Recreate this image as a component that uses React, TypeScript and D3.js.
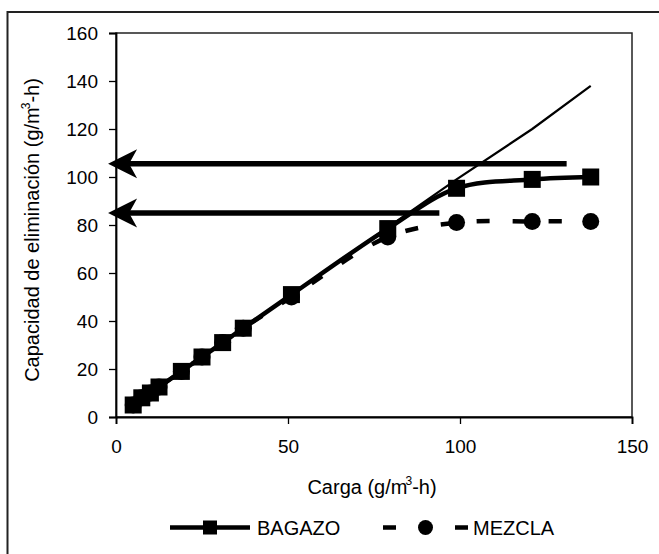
import * as d3 from "d3";
import React, { useEffect, useRef } from "react";

// carga (g/m3-h)
const bagazoX = [5, 7.5, 10, 12.5, 19, 25, 31, 37, 51, 79, 99, 121, 138];
const bagazoY = [5, 8, 10, 12.5, 19, 25, 31, 37, 51, 78.5, 95.3, 99, 100];

const mezclaX = [5, 7.5, 10, 12.5, 19, 25, 31, 37, 51, 79, 99, 121, 138];
const mezclaY = [5, 8, 10, 12.5, 19, 25, 31, 37, 50, 75, 81, 81.5, 81.5];

// 100% removal line
const idealX = [5, 12.5, 25, 37, 51, 79, 99, 121, 138];
const idealY = [5, 12.5, 25, 37, 51, 79, 99, 120, 138];

// horizontal arrows (max capacity)
const arrowLevel = [105.5, 85];
const arrowFrom = [131, 94];
const arrowTo = [-2.3, -2.3];

const xTicks = [0, 50, 100, 150];
const yTicks = [0, 20, 40, 60, 80, 100, 120, 140, 160];

const FONT = "Arial, 'Liberation Sans', sans-serif";

function Chart() {
    const ref = useRef<SVGSVGElement>(null);

    function drawChart() {
        const svg = d3.select(ref.current);
        svg.selectAll("*").remove();

        const x = d3.scaleLinear().domain([0, 150]).range([116, 632]);
        const y = d3.scaleLinear().domain([0, 160]).range([417, 33]);

        // outer frame (cropped on the right and bottom)
        svg.append("rect")
            .attr("x", 7.5)
            .attr("y", 12)
            .attr("width", 700)
            .attr("height", 600)
            .attr("fill", "none")
            .attr("stroke", "#222")
            .attr("stroke-width", 2);

        // plot frame
        svg.append("rect")
            .attr("x", x(0))
            .attr("y", y(160))
            .attr("width", x(150) - x(0))
            .attr("height", y(0) - y(160))
            .attr("fill", "none")
            .attr("stroke", "#222")
            .attr("stroke-width", 1.5);

        const xAxis = svg.append("g")
            .attr("transform", `translate(0,${y(0)})`)
            .call(d3.axisBottom(x).tickValues(xTicks).tickSize(7).tickPadding(16).tickFormat(d3.format("d")));
        const yAxis = svg.append("g")
            .attr("transform", `translate(${x(0)},0)`)
            .call(d3.axisLeft(y).tickValues(yTicks).tickSize(7).tickPadding(11).tickFormat(d3.format("d")));
        [xAxis, yAxis].forEach((g) => {
            g.select(".domain").attr("stroke", "#000").attr("stroke-width", 1.8);
            g.selectAll(".tick line").attr("stroke", "#000").attr("stroke-width", 1.3);
            g.selectAll(".tick text")
                .attr("font-family", FONT)
                .attr("font-size", 19)
                .attr("fill", "#000");
        });

        const line = d3.line<[number, number]>()
            .x((d) => x(d[0]))
            .y((d) => y(d[1]));

        const ideal = idealX.map((v, i) => [v, idealY[i]] as [number, number]);
        const bagazo = bagazoX.map((v, i) => [v, bagazoY[i]] as [number, number]);
        const mezcla = mezclaX.map((v, i) => [v, mezclaY[i]] as [number, number]);

        // mezcla dashed line + circles
        svg.append("path")
            .attr("d", line.curve(d3.curveCatmullRom)(mezcla))
            .attr("fill", "none")
            .attr("stroke", "#000")
            .attr("stroke-width", 4.5)
            .attr("stroke-dasharray", "13,23");
        svg.selectAll(".mez")
            .data(mezcla)
            .enter()
            .append("circle")
            .attr("class", "mez")
            .attr("cx", (d) => x(d[0]))
            .attr("cy", (d) => y(d[1]))
            .attr("r", 8.5)
            .attr("fill", "#000");

        // bagazo solid line + squares
        svg.append("path")
            .attr("d", line.curve(d3.curveCatmullRom)(bagazo))
            .attr("fill", "none")
            .attr("stroke", "#000")
            .attr("stroke-width", 4.5);
        svg.selectAll(".bag")
            .data(bagazo)
            .enter()
            .append("rect")
            .attr("class", "bag")
            .attr("x", (d) => x(d[0]) - 8.5)
            .attr("y", (d) => y(d[1]) - 8.5)
            .attr("width", 17)
            .attr("height", 17)
            .attr("fill", "#000");

        // thin reference line
        svg.append("path")
            .attr("d", line.curve(d3.curveLinear)(ideal))
            .attr("fill", "none")
            .attr("stroke", "#000")
            .attr("stroke-width", 2.2);

        // arrows
        arrowLevel.forEach((lv, i) => {
            const yy = y(lv);
            const tip = x(arrowTo[i]);
            svg.append("line")
                .attr("x1", x(arrowFrom[i]))
                .attr("x2", tip + 20)
                .attr("y1", yy)
                .attr("y2", yy)
                .attr("stroke", "#000")
                .attr("stroke-width", 5.5);
            svg.append("path")
                .attr("d", `M${tip},${yy} L${tip + 29},${yy - 14.5} L${tip + 21},${yy} L${tip + 29},${yy + 14.5} Z`)
                .attr("fill", "#000");
        });

        // axis titles
        const xt = svg.append("text")
            .attr("x", 372)
            .attr("y", 494)
            .attr("text-anchor", "middle")
            .attr("font-family", FONT)
            .attr("font-size", 20);
        xt.append("tspan").text("Carga (g/m");
        xt.append("tspan").attr("dx", -2).attr("dy", -9).attr("font-size", 12).text("3");
        xt.append("tspan").attr("dy", 9).text("-h)");

        const yt = svg.append("text")
            .attr("transform", "translate(39,230) rotate(-90)")
            .attr("text-anchor", "middle")
            .attr("font-family", FONT)
            .attr("font-size", 20);
        yt.append("tspan").text("Capacidad de eliminación (g/m");
        yt.append("tspan").attr("dx", -2).attr("dy", -9).attr("font-size", 12).text("3");
        yt.append("tspan").attr("dy", 9).text("-h)");

        // legend
        const ly = 527.5;
        svg.append("line")
            .attr("x1", 170).attr("x2", 250)
            .attr("y1", ly).attr("y2", ly)
            .attr("stroke", "#000").attr("stroke-width", 4.5);
        svg.append("rect")
            .attr("x", 203).attr("y", ly - 7)
            .attr("width", 14).attr("height", 14)
            .attr("fill", "#000");
        svg.append("text")
            .attr("x", 257).attr("y", ly + 7.5)
            .attr("font-family", FONT).attr("font-size", 20)
            .text("BAGAZO");

        svg.append("line")
            .attr("x1", 383).attr("x2", 469)
            .attr("y1", ly).attr("y2", ly)
            .attr("stroke", "#000").attr("stroke-width", 4.5)
            .attr("stroke-dasharray", "13,23");
        svg.append("circle")
            .attr("cx", 425.5).attr("cy", ly)
            .attr("r", 7.5)
            .attr("fill", "#000");
        svg.append("text")
            .attr("x", 473).attr("y", ly + 7.5)
            .attr("font-family", FONT).attr("font-size", 20)
            .text("MEZCLA");
    }

    useEffect(() => {
        drawChart();
    }, []);

    return (
        <svg
            ref={ref}
            width={659}
            height={554}
            style={{ position: "absolute", left: 0, top: 0, background: "#fff" }}
        />
    );
}

export default function App() {
    return <Chart />;
}
